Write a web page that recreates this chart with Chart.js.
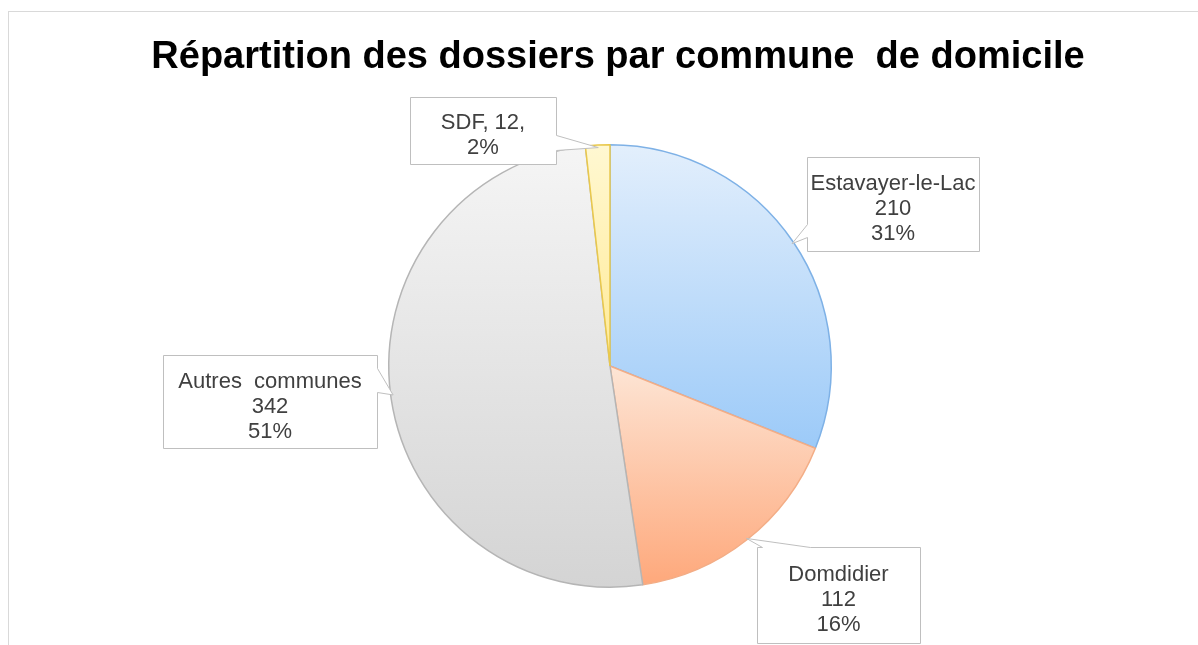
<!DOCTYPE html>
<html>
<head>
<meta charset="utf-8">
<script src="https://cdn.jsdelivr.net/npm/chart.js@4/dist/chart.umd.min.js"></script>
<style>
  html, body { margin: 0; padding: 0; background: #ffffff; }
  #wrap { position: relative; width: 1198px; height: 645px; overflow: hidden; }
  #frame { position: absolute; left: 8px; top: 11px; width: 1300px; height: 700px;
           border-left: 1px solid #d9d9d9; border-top: 1px solid #d9d9d9; pointer-events: none; }
  canvas { position: absolute; left: 0; top: 0; }
</style>
</head>
<body>
<div id="wrap">
  <canvas id="c" width="1198" height="645"></canvas>
  <div id="frame"></div>
</div>
<script>
// ---- data ----
const chartTitle = 'Répartition des dossiers par commune  de domicile';
const categories = ['Estavayer-le-Lac', 'Domdidier', 'Autres  communes', 'SDF'];
const values = [210, 112, 342, 12];
const percentLabels = ['31%', '16%', '51%', '2%'];
const labelInline = [false, false, false, true];

// ---- styles ----
const gradLight = ['#e3effc', '#fde5d5', '#f5f5f5', '#fff8d2'];
const gradDark  = ['#9ccaf8', '#fea87b', '#d4d4d4', '#ffea96'];
const borderCols = ['#7eb1e6', '#f3ad86', '#b5b5b5', '#e9c84c'];

// callout box layout (pixel boxes + wedge base on one edge)
const calloutBoxes = [
  { x: 807, y: 157, w: 172, h: 94, edge: 'left',  b0: 224, b1: 237 },
  { x: 757, y: 547, w: 163, h: 96, edge: 'top',   b0: 762, b1: 810 },
  { x: 163, y: 355, w: 214, h: 93, edge: 'right', b0: 368, b1: 392 },
  { x: 410, y: 97,  w: 146, h: 67, edge: 'right', b0: 135, b1: 150 }
];

function labelLines(i) {
  if (labelInline[i]) return [categories[i] + ', ' + values[i] + ',', percentLabels[i]];
  return [categories[i], String(values[i]), percentLabels[i]];
}

function sliceGradient(ctx) {
  const chart = ctx.chart;
  const i = ctx.dataIndex;
  const area = chart.chartArea;
  if (!area) return gradDark[i];
  const cx = (area.left + area.right) / 2;
  const cy = (area.top + area.bottom) / 2;
  const R = Math.min(area.right - area.left, area.bottom - area.top) / 2;
  const total = values.reduce((a, b) => a + b, 0);
  let start = -Math.PI / 2;
  for (let k = 0; k < i; k++) start += values[k] / total * Math.PI * 2;
  const end = start + values[i] / total * Math.PI * 2;
  let ys = [cy, cy + R * Math.sin(start), cy + R * Math.sin(end)];
  const inRange = (a) => {
    for (let t = -2; t <= 2; t++) {
      const aa = a + t * Math.PI * 2;
      if (aa >= start && aa <= end) return true;
    }
    return false;
  };
  if (inRange(Math.PI / 2)) ys.push(cy + R);
  if (inRange(-Math.PI / 2)) ys.push(cy - R);
  const y0 = Math.min(...ys), y1 = Math.max(...ys);
  const g = chart.ctx.createLinearGradient(0, y0, 0, y1);
  g.addColorStop(0, gradLight[i]);
  g.addColorStop(1, gradDark[i]);
  return g;
}

const titlePlugin = {
  id: 'customTitle',
  afterDraw(chart) {
    const c = chart.ctx;
    c.save();
    c.font = 'bold 38px "Liberation Sans", Arial, sans-serif';
    c.fillStyle = '#000000';
    c.textAlign = 'center';
    c.textBaseline = 'middle';
    c.fillText(chartTitle, 618, 58);
    c.restore();
  }
};

const calloutPlugin = {
  id: 'callouts',
  afterDatasetsDraw(chart) {
    const c = chart.ctx;
    const meta = chart.getDatasetMeta(0);
    meta.data.forEach((arc, i) => {
      const b = calloutBoxes[i];
      const p = arc.getProps(['x', 'y', 'startAngle', 'endAngle', 'outerRadius'], true);
      const mid = (p.startAngle + p.endAngle) / 2;
      const tx = p.x + Math.cos(mid) * (p.outerRadius - 2);
      const ty = p.y + Math.sin(mid) * (p.outerRadius - 2);
      const L = b.x, T = b.y, Rr = b.x + b.w, B = b.y + b.h;
      let pts;
      if (b.edge === 'top') {
        pts = [[L, T], [b.b0, T], [tx, ty], [b.b1, T], [Rr, T], [Rr, B], [L, B]];
      } else if (b.edge === 'right') {
        pts = [[L, T], [Rr, T], [Rr, b.b0], [tx, ty], [Rr, b.b1], [Rr, B], [L, B]];
      } else {
        pts = [[L, T], [Rr, T], [Rr, B], [L, B], [L, b.b1], [tx, ty], [L, b.b0]];
      }
      c.save();
      c.beginPath();
      pts.forEach((q, k) => k ? c.lineTo(q[0] + 0.5, q[1] + 0.5) : c.moveTo(q[0] + 0.5, q[1] + 0.5));
      c.closePath();
      c.fillStyle = '#ffffff';
      c.fill();
      c.lineWidth = 1;
      c.strokeStyle = '#bfbfbf';
      c.stroke();
      const lines = labelLines(i);
      c.font = '22px "Liberation Sans", Arial, sans-serif';
      c.fillStyle = '#404040';
      c.textAlign = 'center';
      c.textBaseline = 'middle';
      const lh = 25;
      const cyb = T + b.h / 2 + 5;
      lines.forEach((s, k) => {
        c.fillText(s, L + b.w / 2, cyb + (k - (lines.length - 1) / 2) * lh);
      });
      c.restore();
    });
  }
};

new Chart(document.getElementById('c'), {
  type: 'pie',
  data: {
    labels: categories,
    datasets: [{
      data: values,
      backgroundColor: sliceGradient,
      borderColor: borderCols,
      borderWidth: 1.5
    }]
  },
  options: {
    responsive: false,
    animation: false,
    events: [],
    layout: { padding: { top: 144, bottom: 57, left: 300, right: 278 } },
    plugins: {
      legend: { display: false },
      title: { display: false },
      tooltip: { enabled: false }
    }
  },
  plugins: [titlePlugin, calloutPlugin]
});
</script>
</body>
</html>
